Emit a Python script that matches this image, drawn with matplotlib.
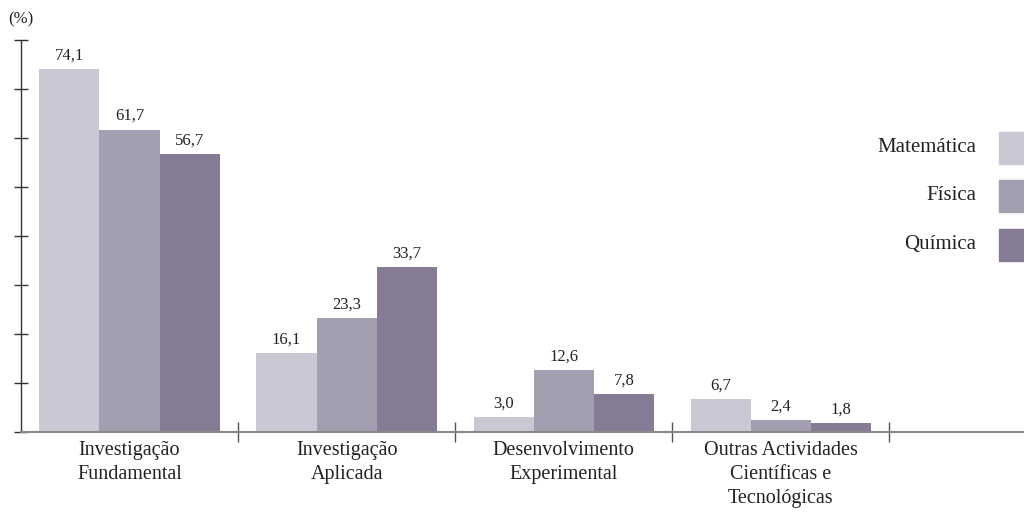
import matplotlib.pyplot as plt
import numpy as np

# Percent of R&D activity type by scientific field
categories = ['Investigação\nFundamental', 'Investigação\nAplicada',
              'Desenvolvimento\nExperimental',
              'Outras Actividades\nCientíficas e\nTecnológicas']
series = ['Matemática', 'Física', 'Química']
matematica = [74.1, 16.1, 3.0, 6.7]
fisica = [61.7, 23.3, 12.6, 2.4]
quimica = [56.7, 33.7, 7.8, 1.8]

colors = ['#cbc8d5', '#a39fb1', '#857b94']
values = [matematica, fisica, quimica]

plt.rcParams['font.family'] = ['Liberation Serif', 'DejaVu Serif']

fig = plt.figure(figsize=(10.24, 5.17), dpi=100)
ax = fig.add_axes([21 / 1024, 85 / 517, 1003 / 1024, 392 / 517])

x = np.arange(len(categories))
w = 0.277
for i, (vals, c) in enumerate(zip(values, colors)):
    pos = x + (i - 1) * w
    bars = ax.bar(pos, vals, width=w, color=c, linewidth=0, zorder=2)
    for b, v in zip(bars, vals):
        ax.annotate(f'{v:.1f}'.replace('.', ','),
                    (b.get_x() + b.get_width() / 2, v),
                    xytext=(0, 4), textcoords='offset points',
                    ha='center', va='bottom', fontsize=12, color='#222222')

ax.set_xlim(-0.5, 4.12)
ax.set_ylim(0, 80)

# axes styling
for s in ['top', 'right']:
    ax.spines[s].set_visible(False)
ax.spines['left'].set_color('#333333')
ax.spines['left'].set_linewidth(1.0)
ax.spines['bottom'].set_color('#888888')
ax.spines['bottom'].set_linewidth(1.5)
ax.spines['bottom'].set_zorder(3)

ax.set_yticks(np.arange(0, 81, 10))
ax.set_yticklabels([])
ax.tick_params(axis='y', direction='inout', length=10, width=1.0, color='#333333')

ax.set_xticks(x + 0.5)
ax.set_xticklabels([])
ax.tick_params(axis='x', direction='inout', length=14, width=1.0, color='#555555')

for xi, lab in zip(x, categories):
    ax.text(xi, -1.8, lab, ha='center', va='top', fontsize=14.5,
            linespacing=1.35, color='#222222')

ax.text(-0.5 - 13 / 217, 82.5, '(%)', ha='left', va='bottom', fontsize=12,
        color='#222222', clip_on=False)

# legend drawn as squares with right-aligned labels
leg_y = [148, 196, 245]
for name, c, yp in zip(series, colors, leg_y):
    fig.patches.append(plt.Rectangle((999 / 1024, (517 - yp - 16) / 517),
                                     25 / 1024, 32 / 517, color=c,
                                     transform=fig.transFigure, figure=fig))
    fig.text(976 / 1024, (517 - yp + 1) / 517, name, ha='right', va='center',
             fontsize=15, color='#222222')

fig.savefig('out.png', dpi=100)
